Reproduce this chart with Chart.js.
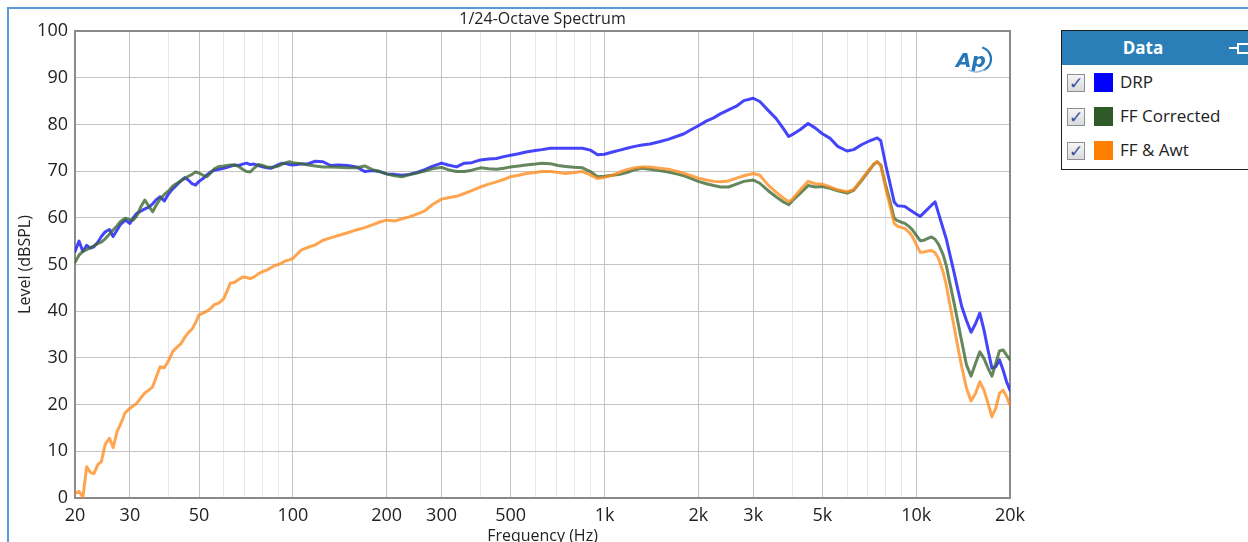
<!DOCTYPE html>
<html>
<head>
<meta charset="utf-8">
<script src="https://cdn.jsdelivr.net/npm/chart.js@4.4.1/dist/chart.umd.min.js"></script>
<style>
  html, body { margin: 0; padding: 0; background: #fff; overflow: hidden; }
  #wrap { position: relative; width: 1248px; height: 542px; }
  #spectrum { position: absolute; left: 0; top: 0; }
  #legend {
    position: absolute; left: 1061px; top: 30px; width: 200px; height: 140px;
    box-sizing: border-box; border: 1px solid #1e1e1e; background: #fff;
    font-family: "Open Sans", "Noto Sans", sans-serif; color: #222;
  }
  #legendHead {
    position: absolute; left: 0; top: 0; width: 198px; height: 34px;
    background: #2a7fb8;
  }
  #legendHead span {
    position: absolute; left: 0; width: 162px; top: 5px; text-align: center;
    color: #fff; font-weight: bold; font-size: 17px;
  }
  #pinLine { position: absolute; left: 167px; top: 16px; width: 8px; height: 0; border-top: 2px solid #fff; }
  #pinBox { position: absolute; left: 175px; top: 12px; width: 14px; height: 7px; border: 2px solid #fff; border-right: none; }
  .row { position: absolute; left: 0; height: 34px; width: 198px; }
  .chk {
    position: absolute; left: 5px; top: 8px; width: 16px; height: 16px;
    border: 1px solid #8d8f93; background: linear-gradient(#f5f5f5, #d8dadd);
    font-family: "DejaVu Sans", sans-serif; font-size: 17px; line-height: 16px;
    text-align: center; color: #3b4f9a; font-weight: bold;
  }
  .sw { position: absolute; left: 32px; top: 7px; width: 19px; height: 19px; }
  .lbl { position: absolute; left: 58px; top: 4px; font-size: 17px; white-space: nowrap; }
</style>
</head>
<body>
<div id="wrap">
  <canvas id="spectrum" width="1248" height="542"></canvas>
  <div id="legend">
    <div id="legendHead"><span>Data</span><i id="pinLine"></i><i id="pinBox"></i></div>
  </div>
</div>
<script>
// frequencies (Hz), 1/24 octave at the ends, 1/12 octave in the middle
const freqs = [
  20, 20.6, 21.2, 21.8, 22.4, 23, 23.7, 24.3, 25, 25.8,
  26.5, 27.3, 28, 29, 30, 30.7, 31.5, 32.5, 33.5, 34.5,
  35.5, 36.5, 37.5, 38.7, 40, 41.2, 42.5, 43.7, 45, 46.2,
  47.5, 48.7, 50, 51.5, 53, 54.5, 56, 58, 60, 61.5,
  63, 65, 67, 69, 71, 73, 75, 77.5, 80, 82.5,
  85, 87.5, 90, 92.5, 95, 97.5, 100,
  106, 112, 118, 125, 132, 140, 150, 160, 170, 180,
  190, 200, 212, 224, 236, 250, 265, 280, 300, 315,
  335, 355, 375, 400, 425, 450, 475, 500, 530, 560,
  600, 630, 670, 710, 750, 800, 850, 900, 950, 1000,
  1060, 1120, 1180, 1250, 1320, 1400, 1500, 1600, 1700, 1800,
  1900, 2000, 2120, 2240, 2360, 2500, 2650, 2800, 3000, 3150,
  3350, 3550, 3750, 3900, 4000, 4250, 4500, 4750, 5000, 5300,
  5600, 6000, 6300, 6700,
  7100, 7300, 7500, 7700, 8000, 8200, 8500, 8700, 9000, 9200,
  9500, 9700, 10000, 10300, 10600, 10900, 11200, 11500, 11800, 12200,
  12500, 12800, 13200, 13600, 14000, 14500, 15000, 15500, 16000, 16500,
  17000, 17500, 18000, 18500, 19000, 19500, 20000
];

// DRP level (dBSPL)
const drp = [
  52.8, 55, 52.8, 54.1, 53.5, 53.8, 54.8, 56, 57, 57.5,
  56, 57.4, 58.6, 59.5, 58.8, 59.9, 60.9, 61.4, 61.9, 62.3,
  63, 63.9, 64.5, 63.6, 65.2, 66.2, 67.1, 67.9, 68.6, 68.1,
  67.3, 67, 67.8, 68.4, 69.2, 69.8, 70.2, 70.4, 70.6, 70.8,
  71, 71.3, 71.2, 71.5, 71.7, 71.4, 71.5, 71.2, 70.9, 70.7,
  70.6, 71, 71.4, 71.7, 71.6, 71.4, 71.3,
  71.5, 71.6, 72.1, 72, 71.2, 71.3, 71.2, 70.9, 69.9, 70.1,
  69.9, 69.4, 69.3, 69.1, 69.3, 69.7, 70.3, 71, 71.7, 71.3,
  70.9, 71.7, 71.8, 72.4, 72.6, 72.7, 73.1, 73.4, 73.7, 74.1,
  74.4, 74.6, 74.9, 74.9, 74.9, 74.9, 74.9, 74.5, 73.5, 73.6,
  74.1, 74.5, 74.9, 75.3, 75.6, 75.8, 76.3, 76.8, 77.4, 78,
  78.9, 79.7, 80.7, 81.4, 82.3, 83.1, 83.9, 85.1, 85.6, 84.9,
  83, 81.3, 79.1, 77.4, 77.8, 78.9, 80.2, 79.2, 78, 77,
  75.3, 74.3, 74.6, 75.7,
  76.5, 76.8, 77.1, 76.5, 71.1, 68, 63.4, 62.6, 62.5, 62.4,
  61.8, 61.4, 60.8, 60.3, 61.1, 61.9, 62.7, 63.4, 60.9, 57.7,
  55.4, 52.4, 48.6, 44.7, 41, 38, 35.5, 37.3, 39.6, 36,
  31.7, 27.8, 28.1, 29.6, 27.4, 24.9, 23.1
];

// FF Corrected level (dBSPL)
const ffCorrected = [
  50.5, 52, 52.8, 53.2, 53.6, 54, 54.5, 54.8, 55.5, 56.5,
  57.4, 58.3, 59.2, 59.9, 59.6, 59.5, 60.3, 62.3, 63.8, 62.5,
  61.3, 62.8, 64, 65, 65.8, 66.8, 67.4, 67.9, 68.4, 68.9,
  69.3, 69.8, 69.6, 69.1, 68.8, 69.6, 70.5, 71, 71.1, 71.2,
  71.3, 71.3, 71, 70.4, 69.9, 69.8, 70.6, 71.4, 71.2, 70.9,
  70.8, 70.9, 71.1, 71.5, 71.8, 72, 71.8,
  71.6, 71.3, 71.1, 70.9, 70.9, 70.8, 70.7, 70.7, 71.1, 70.3,
  69.9, 69.4, 69, 68.8, 69.2, 69.6, 70, 70.5, 70.8, 70.3,
  69.9, 69.9, 70.2, 70.7, 70.5, 70.4, 70.6, 70.9, 71.1, 71.3,
  71.5, 71.7, 71.6, 71.2, 71, 70.8, 70.7, 69.9, 68.8, 68.9,
  69.1, 69.3, 69.7, 70.3, 70.6, 70.4, 70.1, 69.8, 69.4, 69,
  68.4, 67.8, 67.3, 66.9, 66.6, 66.6, 67.2, 67.8, 68.1, 67.4,
  65.8, 64.5, 63.4, 62.8, 63.6, 65.3, 66.9, 66.6, 66.7, 66.3,
  65.8, 65.3, 65.9, 68.1,
  70.3, 71.4, 72, 71.3, 66.7, 64.1, 59.9, 59.4, 59, 58.8,
  58.1, 57.5, 56.3, 55.1, 55.2, 55.6, 55.9, 55.4, 54.3, 52.1,
  49.7, 46.3, 42.1, 37.8, 33.5, 28.5, 26.1, 28.8, 31.3, 29.9,
  27.8, 26.1, 28.8, 31.5, 31.7, 30.6, 29.6
];

// FF & Awt level (dBSPL)
const ffAwt = [
  1, 1.4, 0.2, 6.7, 5.5, 5.2, 7.2, 7.8, 11.5, 12.8,
  10.8, 14.2, 15.8, 18.3, 19.2, 19.7, 20.2, 21.4, 22.5, 23.1,
  23.8, 26, 28.1, 27.9, 29.5, 31.4, 32.3, 33, 34.4, 35.4,
  36.2, 37.5, 39.2, 39.6, 40, 40.6, 41.4, 41.8, 42.7, 44.3,
  46, 46.2, 46.8, 47.3, 47.2, 47, 47.3, 48, 48.5, 48.8,
  49.3, 49.8, 50, 50.4, 50.8, 51, 51.3,
  53, 53.7, 54.2, 55.2, 55.7, 56.2, 56.8, 57.4, 57.9, 58.5,
  59.1, 59.5, 59.3, 59.8, 60.2, 60.8, 61.5, 62.8, 64, 64.3,
  64.6, 65.2, 65.8, 66.6, 67.2, 67.7, 68.2, 68.8, 69.1, 69.5,
  69.7, 69.9, 69.9, 69.7, 69.5, 69.7, 69.9, 69.2, 68.4, 68.7,
  69.1, 69.8, 70.3, 70.7, 70.9, 70.9, 70.6, 70.4, 70, 69.5,
  69, 68.5, 68.1, 67.8, 67.7, 67.9, 68.5, 69, 69.5, 69.1,
  67, 65.5, 64.2, 63.5, 63.9, 66, 67.8, 67.3, 67.2, 66.6,
  66, 65.6, 66, 68.3,
  70.5, 71.5, 72, 71.2, 66.1, 63.2, 58.8, 58.2, 57.9, 57.7,
  56.9, 56.1, 54.3, 52.6, 52.7, 52.9, 53, 52.5, 51.3, 48.4,
  45.5, 41.7, 37.1, 32.4, 28.1, 23.5, 20.8, 22.4, 24.9, 23.1,
  20.3, 17.4, 19.2, 22.4, 23.1, 21.7, 19.9
];

const seriesNames = ['DRP', 'FF Corrected', 'FF & Awt'];
const xGridValues = [20, 30, 40, 50, 60, 70, 80, 90, 100, 200, 300, 400, 500, 600, 700, 800, 900,
  1000, 2000, 3000, 4000, 5000, 6000, 7000, 8000, 9000, 10000, 20000];
const xLabelValues = [20, 30, 50, 100, 200, 300, 500, 1000, 2000, 3000, 5000, 10000, 20000];
const xTickLabels = ['20', '30', '50', '100', '200', '300', '500', '1k', '2k', '3k', '5k', '10k', '20k'];

const lineColors = ['rgba(35, 35, 250, 0.85)', 'rgba(62, 105, 52, 0.8)', 'rgba(255, 140, 30, 0.78)'];
const swatchColors = ['#0000ff', '#2e5a27', '#ff8000'];
const FONT = '"Open Sans", "Noto Sans", sans-serif';
const MAJOR = '#c4c4c4';
const MINOR = '#e7e7e7';

function toPoints(values) {
    return freqs.map((f, i) => ({ x: f, y: values[i] }));
}

// frame, title, axis titles, logo
const decorPlugin = {
    id: 'decor',
    beforeDatasetsDraw(chart) {
        const { ctx, chartArea } = chart;
        ctx.save();
        ctx.strokeStyle = '#8a8a8a';
        ctx.lineWidth = 2;
        ctx.strokeRect(chartArea.left, chartArea.top, chartArea.right - chartArea.left, chartArea.bottom - chartArea.top);
        ctx.restore();
    },
    afterDraw(chart) {
        const { ctx, chartArea } = chart;
        ctx.save();
        // outer blue frame
        ctx.strokeStyle = '#5b9bd5';
        ctx.lineWidth = 2;
        ctx.beginPath();
        ctx.moveTo(8, 542);
        ctx.lineTo(8, 8);
        ctx.lineTo(1248, 8);
        ctx.stroke();

        ctx.fillStyle = '#222';
        ctx.textAlign = 'center';
        ctx.textBaseline = 'middle';
        ctx.font = '16px ' + FONT;
        ctx.fillText('1/24-Octave Spectrum', (chartArea.left + chartArea.right) / 2, 19);
        ctx.textBaseline = 'top';
        ctx.fillText('Frequency (Hz)', (chartArea.left + chartArea.right) / 2, 528);
        ctx.save();
        ctx.translate(25, (chartArea.top + chartArea.bottom) / 2);
        ctx.rotate(-Math.PI / 2);
        ctx.textBaseline = 'middle';
        ctx.fillText('Level (dBSPL)', 0, 0);
        ctx.restore();

        // AP logo
        ctx.fillStyle = '#2676b8';
        ctx.strokeStyle = '#2676b8';
        ctx.font = 'italic bold 20px "DejaVu Sans", sans-serif';
        ctx.textAlign = 'left';
        ctx.textBaseline = 'alphabetic';
        ctx.fillText('Ap', 956, 67);
        ctx.lineWidth = 2.2;
        ctx.beginPath();
        ctx.arc(979, 59, 12, -1.3, 1.2);
        ctx.stroke();
        ctx.strokeStyle = '#8cbbe0';
        ctx.lineWidth = 1.5;
        ctx.beginPath();
        ctx.arc(976, 57, 15, 0.9, 2.1);
        ctx.stroke();
        ctx.restore();
    }
};

new Chart(document.getElementById('spectrum'), {
    type: 'line',
    data: {
        datasets: [
            { label: seriesNames[0], data: toPoints(drp), borderColor: lineColors[0], order: 3 },
            { label: seriesNames[1], data: toPoints(ffCorrected), borderColor: lineColors[1], order: 2 },
            { label: seriesNames[2], data: toPoints(ffAwt), borderColor: lineColors[2], order: 1 }
        ]
    },
    options: {
        responsive: false,
        animation: false,
        layout: { padding: { left: 0, top: 31, right: 238, bottom: 0 } },
        plugins: { legend: { display: false }, tooltip: { enabled: false } },
        elements: {
            point: { radius: 0 },
            line: { tension: 0, borderWidth: 3, borderJoinStyle: 'round', borderCapStyle: 'round', fill: false }
        },
        scales: {
            x: {
                type: 'logarithmic',
                min: 20,
                max: 20000,
                afterBuildTicks: (axis) => { axis.ticks = xGridValues.map(v => ({ value: v })); },
                afterFit: (axis) => { axis.height = 44; },
                border: { display: false },
                grid: {
                    drawTicks: false,
                    color: (c) => xLabelValues.includes(c.tick.value) ? MAJOR : MINOR
                },
                ticks: {
                    autoSkip: false,
                    maxRotation: 0,
                    padding: 7,
                    color: '#222',
                    font: { family: FONT, size: 18 },
                    callback: (v) => {
                        const i = xLabelValues.indexOf(v);
                        return i >= 0 ? xTickLabels[i] : '';
                    }
                }
            },
            y: {
                min: 0,
                max: 100,
                afterFit: (axis) => { axis.width = 75; },
                border: { display: false },
                grid: {
                    drawTicks: false,
                    color: (c) => c.tick.value % 10 === 0 ? MAJOR : MINOR
                },
                ticks: {
                    stepSize: 5,
                    padding: 7,
                    color: '#222',
                    font: { family: FONT, size: 18 },
                    callback: (v) => v % 10 === 0 ? v : ''
                }
            }
        }
    },
    plugins: [decorPlugin]
});

// legend panel
const legend = document.getElementById('legend');
seriesNames.forEach((name, i) => {
    const row = document.createElement('div');
    row.className = 'row';
    row.style.top = (35 + i * 34) + 'px';
    row.innerHTML = '<div class="chk">✓</div><div class="sw" style="background:' + swatchColors[i] +
        '"></div><div class="lbl"></div>';
    row.querySelector('.lbl').textContent = name;
    legend.appendChild(row);
});
</script>
</body>
</html>
